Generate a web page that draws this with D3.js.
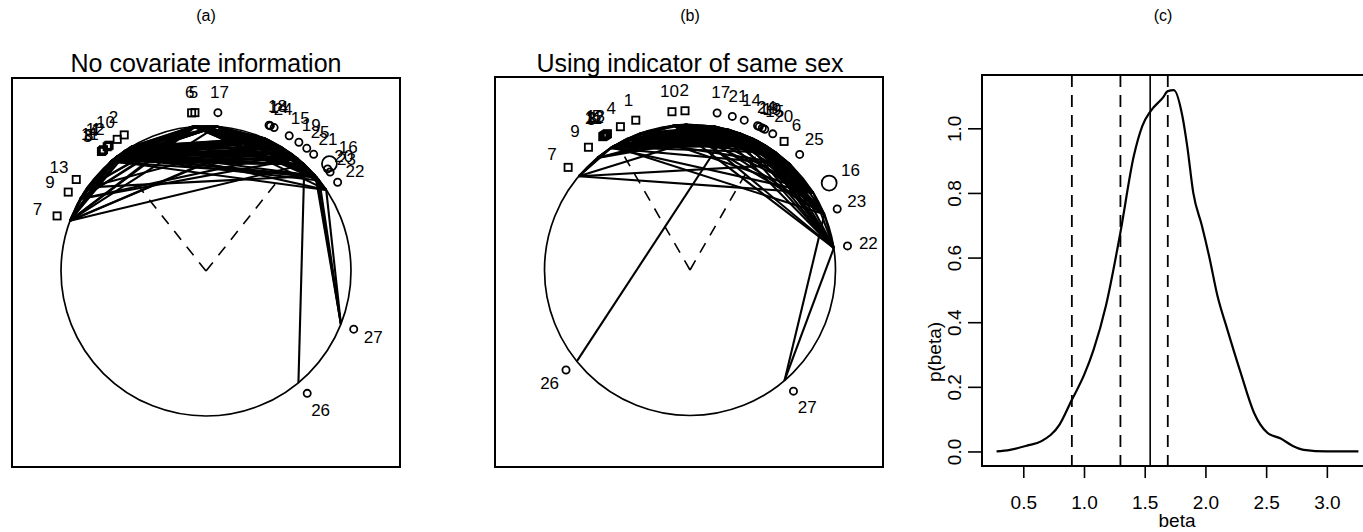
<!DOCTYPE html>
<html>
<head>
<meta charset="utf-8">
<script src="https://cdn.jsdelivr.net/npm/d3@7"></script>
<style>
  body { margin: 0; background: #fff; }
  text { font-family: "Liberation Sans", Arial, sans-serif; fill: #000; }
</style>
</head>
<body>
<svg id="fig" width="1363" height="532"></svg>
<script>
// ---- panel (a): no covariate information ----
var aLabels = [7, 9, 13, 3, 8, 11, 4, 12, 1, 10, 2, 6, 5, 17, 18, 14, 24, 15, 19, 25, 21, 16, 20, 23, 22, 27, 26];
var aAngles = [-69.7, -60.2, -54.8, -41.2, -40.7, -40.2, -38.5, -38.0, -37.6, -34, -31, -5.2, -4.0, 4.3, 23.4, 23.9, 25.4, 31.6, 35.8, 39.4, 42.7, 49, 50, 51.4, 56, 111.5, 140.4];
var aBoy    = [1, 1, 1, 1, 1, 1, 1, 1, 1, 1, 1, 1, 1, 0, 0, 0, 0, 0, 0, 0, 0, 0, 0, 0, 0, 0, 0];
var aSize   = [1, 1, 1, 1, 1, 1, 1, 1, 1, 1, 1, 1, 1, 1, 1, 1, 1, 1, 1, 1, 1, 2, 1, 1, 1, 1, 1];
var aEdges = [
  [7,9],[9,13],[7,13],
  [7,3],[7,8],[7,11],[7,4],[7,12],[7,1],[7,10],[7,2],[9,3],[9,4],[9,12],[9,10],[13,8],[13,1],[13,2],[13,11],
  [7,6],[7,5],[9,5],[9,6],[13,6],[13,5],[7,17],
  [7,18],[7,14],[7,21],[9,25],[13,16],[9,19],[13,24],
  [3,8],[8,11],[11,4],[4,12],[12,1],[1,10],[10,2],[3,10],[8,2],[3,4],[11,1],
  [3,6],[3,5],[8,6],[8,5],[11,6],[11,5],[4,6],[4,5],[12,6],[12,5],[1,6],[1,5],[10,6],[10,5],[2,6],[2,5],
  [3,17],[11,17],[1,17],[2,17],[8,17],[10,17],
  [3,18],[3,14],[3,24],[8,18],[8,14],[8,24],[11,18],[11,14],[11,24],[4,18],[4,14],[4,24],
  [12,18],[12,14],[12,24],[1,18],[1,14],[1,24],[10,18],[10,14],[10,24],[2,18],[2,14],[2,24],
  [3,15],[3,19],[3,25],[8,15],[8,19],[8,21],[11,15],[11,25],[11,21],[4,19],[4,21],[12,15],
  [12,19],[12,25],[1,19],[1,21],[10,15],[10,25],[10,19],[2,15],[2,21],[2,19],[2,25],
  [3,16],[8,22],[4,23],[1,20],[10,16],[2,22],[12,16],
  [6,17],[5,17],[17,18],[17,14],[17,24],[17,15],[17,19],[17,25],[17,21],
  [6,18],[6,14],[6,24],[6,15],[6,19],[6,25],[6,21],[5,18],[5,14],[5,24],[5,15],[5,19],[5,25],[5,21],
  [6,16],[5,22],[17,23],[6,20],[17,16],[5,23],
  [18,14],[14,24],[24,15],[15,19],[19,25],[25,21],[21,16],[16,20],[20,23],[23,22],
  [18,15],[14,19],[24,25],[15,21],[19,16],[25,23],[21,22],[18,21],[14,16],[24,22],
  [18,25],[14,21],[15,16],[19,20],[24,20],[18,23],[15,22],[19,22],
  [27,16],[27,23],[27,22],[27,20],[26,21]
];
var aArms = [-38.5, 38.5];
var aArmLen = 0.765;

// ---- panel (b): using indicator of same sex ----
var bLabels = [7, 9, 3, 8, 11, 12, 13, 5, 4, 1, 10, 2, 17, 21, 14, 24, 18, 19, 15, 20, 6, 25, 16, 23, 22, 27, 26];
var bAngles = [-49.9, -39.6, -33.2, -32.8, -32.4, -32.0, -31.6, -31.2, -25.9, -19.9, -6.5, -1.8, 9.8, 15.4, 19.9, 25.1, 25.8, 27, 28, 31.3, 36.2, 43.5, 58, 67.5, 81.3, 139.5, -128.9];
var bBoy    = [1, 1, 1, 1, 1, 1, 1, 1, 1, 1, 1, 1, 0, 0, 0, 0, 0, 0, 0, 0, 1, 0, 0, 0, 0, 0, 0];
var bSize   = [1, 1, 1, 1, 1, 1, 1, 1, 1, 1, 1, 1, 1, 1, 1, 1, 1, 1, 1, 1, 1, 1, 2, 1, 1, 1, 1];
var bEdges = [
  [3,8],[8,11],[11,12],[12,13],[13,5],[3,5],[9,3],[9,11],[4,1],[4,3],[1,10],[10,2],[4,10],[1,2],[3,1],[8,4],[12,10],
  [3,17],[3,21],[3,14],[3,24],[3,15],[8,17],[8,21],[8,18],[8,20],[8,14],[11,14],[11,19],[11,17],[11,24],
  [12,24],[12,21],[12,15],[12,18],[13,18],[13,17],[13,20],[13,14],[5,19],[5,21],[5,24],[5,17],
  [4,17],[4,21],[4,14],[4,24],[4,18],[4,19],[4,15],[4,20],
  [1,17],[1,21],[1,14],[1,24],[1,18],[1,19],[1,15],[1,20],
  [10,17],[10,21],[10,14],[10,24],[10,18],[10,19],[10,15],[10,20],
  [2,17],[2,21],[2,14],[2,24],[2,18],[2,19],[2,15],[2,20],
  [9,17],[9,14],[9,21],
  [3,25],[8,16],[11,6],[12,23],[4,25],[1,16],[10,6],[2,25],[2,16],[10,23],[2,22],[10,22],[1,6],[4,6],[2,6],[2,23],[10,25],[10,16],
  [17,21],[21,14],[14,24],[24,18],[18,19],[19,15],[15,20],[17,14],[21,24],[14,18],[24,19],[18,15],[19,20],[17,20],[21,15],[17,24],[14,20],[21,19],
  [20,6],[15,6],[24,6],[17,6],[14,6],[20,25],[17,25],[21,25],[14,25],[19,25],[18,25],
  [17,16],[21,16],[24,16],[15,16],[14,16],[18,16],[20,16],
  [17,23],[14,23],[24,23],[19,23],[20,23],[21,23],[15,23],
  [17,22],[21,22],[14,22],[24,22],[18,22],[19,22],[15,22],[20,22],
  [6,25],[25,16],[16,23],[23,22],[6,22],[25,22],[16,22],[6,16],[25,23],
  [7,9],[7,25],[7,16],[7,3],[7,21],[7,8],
  [26,21],[27,22],[27,23]
];
var bArms = [-30, 30];
var bArmLen = 0.9;

// ---- panel (c): posterior density of beta ----
var betaX = [0.28, 0.39, 0.53, 0.65, 0.80, 0.90, 1.00, 1.08, 1.18, 1.30, 1.41, 1.48, 1.55, 1.65, 1.69, 1.74, 1.81, 1.85, 1.90, 1.97, 2.03, 2.10, 2.18, 2.29, 2.40, 2.51, 2.62, 2.72, 2.81, 3.00, 3.26];
var densY = [0.000, 0.005, 0.018, 0.032, 0.084, 0.160, 0.236, 0.316, 0.450, 0.678, 0.914, 1.007, 1.054, 1.095, 1.115, 1.118, 1.038, 0.945, 0.800, 0.700, 0.605, 0.480, 0.378, 0.244, 0.120, 0.058, 0.040, 0.017, 0.005, 0.000, 0.000];
var dashedAt = [0.90, 1.30, 1.69];
var solidAt = 1.545;
var xTicks = [0.5, 1.0, 1.5, 2.0, 2.5, 3.0];
var yTicks = [0.0, 0.2, 0.4, 0.6, 0.8, 1.0];

var svg = d3.select("#fig");
svg.append("rect").attr("width", 1363).attr("height", 532).attr("fill", "#fff");

function rad(a) { return a * Math.PI / 180; }

function drawNet(cfg) {
  var x = d3.scaleLinear().domain([-1, 1]).range([cfg.cx - cfg.r, cfg.cx + cfg.r]);
  var y = d3.scaleLinear().domain([-1, 1]).range([cfg.cy + cfg.r, cfg.cy - cfg.r]);
  var g = svg.append("g");

  // outer box
  g.append("rect")
    .attr("x", cfg.box[0]).attr("y", cfg.box[1])
    .attr("width", cfg.box[2] - cfg.box[0]).attr("height", cfg.box[3] - cfg.box[1])
    .attr("fill", "none").attr("stroke", "#000").attr("stroke-width", 2);

  g.append("text").attr("x", cfg.cx).attr("y", 21).attr("text-anchor", "middle")
    .style("font-size", "16px").text(cfg.tag);
  g.append("text").attr("x", cfg.cx).attr("y", 72).attr("text-anchor", "middle")
    .style("font-size", "25px").text(cfg.title);

  // big circle
  g.append("circle").attr("cx", x(0)).attr("cy", y(0)).attr("r", x(1) - x(0))
    .attr("fill", "none").attr("stroke", "#000").attr("stroke-width", 1.7);

  // dashed V
  cfg.arms.forEach(function(a) {
    g.append("line")
      .attr("x1", x(0)).attr("y1", y(0))
      .attr("x2", x(cfg.armLen * Math.sin(rad(a)))).attr("y2", y(cfg.armLen * Math.cos(rad(a))))
      .attr("stroke", "#000").attr("stroke-width", 1.6).attr("stroke-dasharray", "11,9");
  });

  var ang = {};
  cfg.labels.forEach(function(l, i) { ang[l] = cfg.angles[i]; });

  // ties as chords
  g.selectAll("line.edge").data(cfg.edges).enter().append("line")
    .attr("class", "edge")
    .attr("x1", function(d) { return x(Math.sin(rad(ang[d[0]]))); })
    .attr("y1", function(d) { return y(Math.cos(rad(ang[d[0]]))); })
    .attr("x2", function(d) { return x(Math.sin(rad(ang[d[1]]))); })
    .attr("y2", function(d) { return y(Math.cos(rad(ang[d[1]]))); })
    .attr("stroke", "#000").attr("stroke-width", 2.1);

  var nodes = cfg.labels.map(function(l, i) {
    return { label: l, a: cfg.angles[i], boy: cfg.boy[i], size: cfg.size[i] };
  });

  nodes.forEach(function(n) {
    var px = x(1.095 * Math.sin(rad(n.a))), py = y(1.095 * Math.cos(rad(n.a)));
    if (n.boy) {
      g.append("rect").attr("x", px - 3.6).attr("y", py - 3.6).attr("width", 7.2).attr("height", 7.2)
        .attr("fill", "none").attr("stroke", "#000").attr("stroke-width", 1.8);
    } else {
      var rr = n.size > 1 ? 7.5 : 3.6;
      var off = n.size > 1 ? 1.03 : 1.0;
      g.append("circle")
        .attr("cx", x(1.095 * off * Math.sin(rad(n.a)))).attr("cy", y(1.095 * off * Math.cos(rad(n.a))))
        .attr("r", rr).attr("fill", "none").attr("stroke", "#000").attr("stroke-width", 1.8);
    }
    var lr = n.size > 1 ? 1.3 : 1.24;
    g.append("text")
      .attr("x", x(lr * Math.sin(rad(n.a)))).attr("y", y(lr * Math.cos(rad(n.a))))
      .attr("text-anchor", "middle").attr("dy", "0.36em")
      .style("font-size", "17px").text(n.label);
  });
}

drawNet({ cx: 206, cy: 271, r: 145, box: [12, 78, 400, 467], tag: "(a)", title: "No covariate information",
  labels: aLabels, angles: aAngles, boy: aBoy, size: aSize, edges: aEdges, arms: aArms, armLen: aArmLen });
drawNet({ cx: 690, cy: 270, r: 145.5, box: [495, 77, 883, 467], tag: "(b)", title: "Using indicator of same sex",
  labels: bLabels, angles: bAngles, boy: bBoy, size: bSize, edges: bEdges, arms: bArms, armLen: bArmLen });

// ---- panel (c) ----
var x = d3.scaleLinear().domain([0.16, 3.38]).range([982, 1373]);
var y = d3.scaleLinear().domain([-0.045, 1.165]).range([466, 75]);
var gc = svg.append("g");

gc.append("text").attr("x", 1163).attr("y", 21).attr("text-anchor", "middle")
  .style("font-size", "16px").text("(c)");

gc.append("rect").attr("x", 982).attr("y", 75).attr("width", 391).attr("height", 391)
  .attr("fill", "none").attr("stroke", "#000").attr("stroke-width", 2);

var xAxis = d3.axisBottom(x).tickValues(xTicks).tickSize(12).tickFormat(d3.format(".1f"));
var gx = gc.append("g").attr("transform", "translate(0,466)").call(xAxis);
gx.select(".domain").remove();
gx.selectAll("line").attr("stroke", "#000").attr("stroke-width", 1.6);
gx.selectAll("text").attr("y", 30).style("font-size", "19px")
  .style("font-family", "'Liberation Sans', Arial, sans-serif").attr("fill", "#000");

var yAxis = d3.axisLeft(y).tickValues(yTicks).tickSize(14).tickFormat(d3.format(".1f"));
var gy = gc.append("g").attr("transform", "translate(982,0)").call(yAxis);
gy.select(".domain").remove();
gy.selectAll("line").attr("stroke", "#000").attr("stroke-width", 1.6);
gy.selectAll("text")
  .attr("x", null).attr("dy", null)
  .attr("transform", "translate(-21,0) rotate(-90)")
  .attr("text-anchor", "middle").attr("y", 0)
  .style("font-size", "19px").style("font-family", "'Liberation Sans', Arial, sans-serif").attr("fill", "#000");

gc.append("text").attr("x", 1177).attr("y", 527).attr("text-anchor", "middle")
  .style("font-size", "19px").text("beta");
gc.append("text").attr("transform", "translate(941,352) rotate(-90)").attr("text-anchor", "middle")
  .style("font-size", "19px").text("p(beta)");

gc.selectAll("line.cut").data(dashedAt).enter().append("line")
  .attr("class", "cut")
  .attr("x1", function(d) { return x(d); }).attr("x2", function(d) { return x(d); })
  .attr("y1", 75).attr("y2", 466)
  .attr("stroke", "#000").attr("stroke-width", 1.8).attr("stroke-dasharray", "12,8");
gc.append("line").attr("x1", x(solidAt)).attr("x2", x(solidAt)).attr("y1", 75).attr("y2", 466)
  .attr("stroke", "#000").attr("stroke-width", 1.6);

var line = d3.line()
  .x(function(d, i) { return x(betaX[i]); })
  .y(function(d) { return y(d); })
  .curve(d3.curveMonotoneX);
gc.append("path").datum(densY).attr("d", line)
  .attr("fill", "none").attr("stroke", "#000").attr("stroke-width", 2.2);
</script>
</body>
</html>
